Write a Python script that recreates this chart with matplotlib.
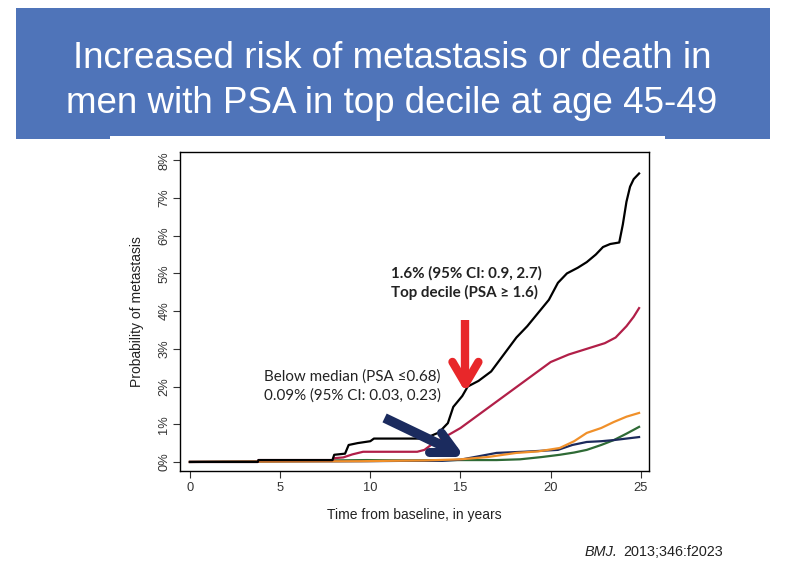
import matplotlib
matplotlib.use("Agg")
import matplotlib.pyplot as plt
from matplotlib.patches import Rectangle
from matplotlib.lines import Line2D

# ---------------- data (years, % probability of metastasis) ----------------
black_t = [0, 3.76, 3.8, 7.9, 8.0, 8.6, 8.8, 9.3, 10.0, 10.2, 12.8, 13.3, 13.8, 14.3,
           14.6, 15.1, 15.4, 16.0, 16.7, 17.4, 18.1, 18.7, 19.3, 19.9,
           20.4, 20.9, 21.5, 22.0, 22.5, 22.9, 23.3, 23.8, 24.0, 24.2, 24.4, 24.6, 24.9]
black_v = [0, 0, 0.05, 0.05, 0.19, 0.22, 0.45, 0.5, 0.55, 0.62, 0.62, 0.68, 0.78, 1.03,
           1.46, 1.75, 2.0, 2.15, 2.4, 2.85, 3.3, 3.6, 3.95, 4.3,
           4.75, 5.0, 5.15, 5.3, 5.5, 5.7, 5.78, 5.82, 6.3, 6.9, 7.3, 7.5, 7.65]

red_t = [0, 3.76, 3.8, 7.9, 8.0, 8.5, 9.0, 9.6, 12.6, 13.0, 13.5, 14.2, 15.0, 16.0,
         17.0, 18.0, 19.0, 20.0, 21.0, 22.0, 23.0, 23.6, 24.2, 24.6, 24.9]
red_v = [0, 0, 0.05, 0.05, 0.1, 0.12, 0.2, 0.27, 0.27, 0.32, 0.5, 0.68, 0.9, 1.25,
         1.6, 1.95, 2.3, 2.65, 2.85, 3.0, 3.15, 3.3, 3.6, 3.85, 4.08]

orange_t = [0, 3.8, 9.5, 11, 13, 15, 16.5, 18.1, 19.3, 20.5, 21.3, 22.0, 22.8, 23.5, 24.2, 24.9]
orange_v = [0, 0.01, 0.02, 0.03, 0.04, 0.07, 0.13, 0.24, 0.28, 0.37, 0.55, 0.77, 0.9, 1.06, 1.2, 1.3]

navy_t = [0, 9.8, 12, 14, 15, 16, 17, 18.5, 20.4, 21.2, 22.0, 22.8, 23.5, 24.2, 24.9]
navy_v = [0, 0.02, 0.03, 0.03, 0.06, 0.15, 0.24, 0.27, 0.32, 0.45, 0.53, 0.55, 0.58, 0.62, 0.66]

green_t = [0, 9.8, 12, 15, 17, 18.3, 19.5, 20.5, 21.3, 22.0, 22.8, 23.5, 24.2, 24.9]
green_v = [0, 0.05, 0.04, 0.05, 0.05, 0.07, 0.13, 0.19, 0.25, 0.32, 0.45, 0.58, 0.75, 0.93]

x_ticks = [0, 5, 10, 15, 20, 25]
y_ticks = [0, 1, 2, 3, 4, 5, 6, 7, 8]
y_tick_labels = [f"{v}%" for v in y_ticks]

title_lines = ["Increased risk of metastasis or death in",
               "men with PSA in top decile at age 45-49"]
top_note = ["1.6% (95% CI: 0.9, 2.7)", "Top decile (PSA \u2265 1.6)"]
low_note = ["Below median (PSA \u22640.68)", "0.09% (95% CI: 0.03, 0.23)"]

W, H = 785, 585
fig = plt.figure(figsize=(W / 100, H / 100), dpi=100)
fig.patch.set_facecolor("white")

# banner
fig.patches.append(Rectangle((16 / W, 1 - 139 / H), 754 / W, 131 / H,
                             transform=fig.transFigure, facecolor="#4f74b9",
                             edgecolor="none", zorder=0))
fig.patches.append(Rectangle((110 / W, 1 - 139 / H), 555 / W, 3 / H,
                             transform=fig.transFigure, facecolor="white",
                             edgecolor="none", zorder=1))
title_font = ["Liberation Sans", "DejaVu Sans"]
fig.text(392 / W, 1 - 68 / H, title_lines[0], color="white", ha="center",
         va="baseline", fontsize=26.5, family=title_font)
fig.text(392 / W, 1 - 113 / H, title_lines[1], color="white", ha="center",
         va="baseline", fontsize=26.5, family=title_font)

# axes
ax = fig.add_axes([180 / W, 1 - 471 / H, (649 - 180) / W, (471 - 152) / H])
ax.set_xlim(-0.55, 25.45)
ax.set_ylim(-0.24, 8.22)

lw = 1.6
ax.plot(green_t, green_v, color="#2e6a35", lw=lw, zorder=3)
ax.plot(navy_t, navy_v, color="#1c2a5c", lw=lw, zorder=4)
ax.plot(orange_t, orange_v, color="#f0902a", lw=lw, zorder=5)
ax.plot(red_t, red_v, color="#b11f48", lw=lw, zorder=6)
ax.plot(black_t, black_v, color="black", lw=lw, zorder=7)

ax.set_xticks(x_ticks)
ax.set_yticks(y_ticks)
ax.set_yticklabels(y_tick_labels, rotation=90, va="center")
ax.tick_params(direction="out", length=5, width=0.8, colors="#333333",
               labelsize=9.3, labelcolor="#333333", pad=3)
ax.tick_params(axis="y", pad=2)
for lab in ax.get_xticklabels() + ax.get_yticklabels():
    lab.set_family("Liberation Sans")
for s in ax.spines.values():
    s.set_linewidth(1.0)
    s.set_color("black")

ax.set_xlabel("Time from baseline, in years", fontsize=10,
              family="Liberation Sans", color="#222222", labelpad=10)
ax.set_ylabel("Probability of metastasis", fontsize=10,
              family="Liberation Sans", color="#222222", labelpad=10)


def px(x, y):
    """slide pixel -> data coordinates (for annotation placement)"""
    return (x - 189) / 18.07, (462 - y) / 37.7


note_font = ["Lato", "DejaVu Sans"]
for i, line in enumerate(top_note):
    x, y = px(390, 273 + 20 * i)
    ax.text(x, y, line, fontsize=10.9, fontweight="bold", family=note_font,
            color="#222222", ha="left", va="center", zorder=9)
for i, line in enumerate(low_note):
    x, y = px(263, 377 + 19 * i)
    ax.text(x, y, line, fontsize=10.9, family=note_font,
            color="#222222", ha="left", va="center", zorder=9)

# red arrow
red = "#e8272a"
sx, sy = px(465, 320)
tx, ty = px(465, 384)
ax.add_line(Line2D([sx, tx], [sy, ty], color=red, lw=6, solid_capstyle="butt", zorder=10))
for ex in (452, 478):
    ax.add_line(Line2D([px(ex, 362)[0], tx], [px(ex, 362)[1], ty], color=red, lw=6,
                       solid_capstyle="round", zorder=10))

# navy arrow
navy = "#1b2b5e"
sx, sy = px(384, 418)
tx, ty = px(455, 452)
ax.add_line(Line2D([sx, tx], [sy, ty], color=navy, lw=7, solid_capstyle="butt", zorder=10))
for ex, ey in ((441, 433), (428, 452)):
    ax.add_line(Line2D([px(ex, ey)[0], tx], [px(ex, ey)[1], ty], color=navy, lw=6.5,
                       solid_capstyle="round", zorder=10))

# citation
fig.text(585 / W, 1 - 556 / H, "BMJ.", fontsize=10.4, style="italic",
         family="Liberation Sans", color="#222222", va="baseline")
fig.text(623 / W, 1 - 556 / H, "2013;346:f2023", fontsize=10.4,
         family="Liberation Sans", color="#222222", va="baseline")

fig.savefig("out.png", dpi=100, facecolor="white")
